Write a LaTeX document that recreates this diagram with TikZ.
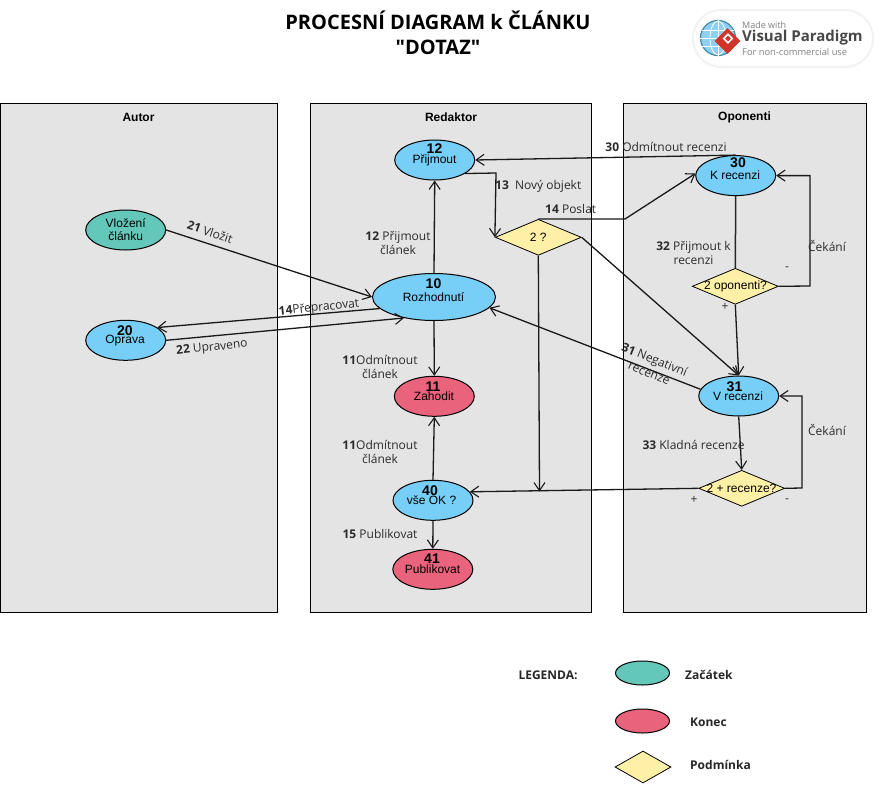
\documentclass[tikz,border=0pt]{standalone}
\usepackage{fontspec}
\setmainfont{Liberation Sans}
\newfontfamily\opensans{Open Sans}
\usetikzlibrary{arrows.meta,shapes.geometric,calc}
\definecolor{lanegray}{HTML}{E4E4E4}
\definecolor{stepblue}{HTML}{77CEF6}
\definecolor{stepteal}{HTML}{63C7B9}
\definecolor{stepred}{HTML}{E8637B}
\definecolor{stepyellow}{HTML}{FFF0A8}
\definecolor{lbltext}{HTML}{2B2B2B}
\definecolor{globeblue}{HTML}{8FD0F2}
\definecolor{globeedge}{HTML}{3F8CA6}
\definecolor{gemred}{HTML}{D0352B}
\tikzset{
  lane/.style={draw=black,fill=lanegray,line width=1pt,anchor=north west,inner sep=0pt},
  lanetitle/.style={font=\fontsize{12}{14}\selectfont\bfseries,inner sep=0pt},
  oval/.style={ellipse,draw=black,line width=1pt,minimum width=80pt,minimum height=40pt,inner sep=0pt,align=center,font=\fontsize{12}{13}\selectfont},
  blueoval/.style={oval,fill=stepblue},
  redoval/.style={oval,fill=stepred},
  tealoval/.style={oval,fill=stepteal},
  cond/.style={diamond,aspect=2.4,draw=black,line width=.8pt,fill=stepyellow,minimum width=86pt,minimum height=36pt,inner sep=0pt,font=\fontsize{12}{13}\selectfont},
  num/.style={font=\fontsize{14}{15}\selectfont\bfseries,inner sep=0pt},
  nodetext/.style={font=\fontsize{12}{13}\selectfont,inner sep=0pt},
  lbl/.style={font=\opensans\fontsize{12}{14.5}\selectfont,text=lbltext,inner sep=0pt,align=center},
  conn/.style={draw=black!90,line width=1.3pt,-{Straight Barb[length=8pt,width=11pt,line width=1.1pt]}},
  plain/.style={draw=black!85,line width=1.5pt},
  legtext/.style={font=\opensans\fontsize{12}{14}\selectfont\bfseries,text=black!85,inner sep=0pt}
}
\begin{document}
\begin{tikzpicture}[x=1pt,y=-1pt]
\useasboundingbox (0,0) rectangle (882,784);
% title
\node[font=\opensans\fontsize{20}{25}\selectfont\bfseries,align=center,inner sep=0pt] (title) at (438,32.5) {PROCESNÍ DIAGRAM k ČLÁNKU\\"DOTAZ"};
% logo
\node[draw=black!5,line width=2pt,fill=white,rounded corners=28pt,minimum width=180pt,minimum height=57pt,inner sep=0pt] (logo) at (783,38.5) {};
\node[circle,draw=globeedge,fill=globeblue,line width=1.2pt,minimum size=35pt,inner sep=0pt] (globe) at (718,38) {};
\draw[white,line width=.8pt] (globe.north) -- (globe.south) (globe.west) -- (globe.east)
  (702,30) -- (734,30) (702,46) -- (734,46);
\node[ellipse,draw=white,line width=.8pt,minimum width=16pt,minimum height=34pt,inner sep=0pt] (globem) at (718,38) {};
\node[diamond,fill=gemred,minimum size=26pt,inner sep=0pt] (gem) at (727.5,41) {};
\node[rectangle,draw=white,line width=1.6pt,rotate=45,minimum size=6pt,inner sep=0pt] (gemhole) at (728,38.5) {};
\node[font=\opensans\fontsize{9}{10}\selectfont,text=black!50,anchor=west,inner sep=0pt] (made) at (742,25) {Made with};
\node[font=\opensans\fontsize{15}{16}\selectfont\bfseries,text=black!72,anchor=west,inner sep=0pt] (vp) at (742,38) {Visual Paradigm};
\node[font=\opensans\fontsize{9.3}{10}\selectfont,text=black!50,anchor=west,inner sep=0pt] (nc) at (742,52) {For non-commercial use};
% lanes
\node[lane,minimum width=277pt,minimum height=509pt] (autor) at (0,103) {};
\node[lane,minimum width=281pt,minimum height=509pt] (redaktor) at (310,103) {};
\node[lane,minimum width=243pt,minimum height=509pt] (oponenti) at (623,103) {};
\node[lanetitle] (tA) at (138.5,117) {Autor};
\node[lanetitle] (tR) at (451,117) {Redaktor};
\node[lanetitle] (tO) at (744.5,117) {Oponenti};
% nodes
\node[blueoval] (prijmout) at (434.7,160) {};
\node[blueoval,minimum width=123pt,minimum height=47pt] (rozh) at (434,297) {};
\node[tealoval] (vlozeni) at (125.7,230) {Vložení\\článku};
\node[blueoval] (oprava) at (125.7,340.3) {};
\node[redoval] (zahodit) at (434.3,396.3) {};
\node[blueoval] (vseok) at (433,500.3) {};
\node[redoval] (publ) at (432.8,569.3) {};
\node[blueoval] (krec) at (735.7,175.6) {};
\node[blueoval] (vrec) at (738.7,396) {};
\node[cond] (d2) at (538.3,237.3) {2 ?};
\node[cond] (dopon) at (735.3,286.3) {};
\node[cond] (drec) at (741.7,488.3) {};
% node inner text
\node[num] (n12) at (434.5,149) {12};
\node[nodetext] (tprij) at (434.5,160) {Přijmout};
\node[num] (n10) at (433.5,284) {10};
\node[nodetext] (trozh) at (433.5,297) {Rozhodnutí};
\node[num] (n20) at (125,331) {20};
\node[nodetext] (topr) at (125,341) {Oprava};
\node[num] (n11) at (433,387) {11};
\node[nodetext] (tzah) at (434,396) {Zahodit};
\node[num] (n40) at (430,490.5) {40};
\node[nodetext] (tvse) at (431.5,500) {vše OK ?};
\node[num] (n41) at (432,559) {41};
\node[nodetext] (tpub) at (432.5,569) {Publikovat};
\node[num] (n30) at (738,163) {30};
\node[nodetext] (tkrec) at (735,175) {K recenzi};
\node[num] (n31) at (734.5,387) {31};
\node[nodetext] (tvrec) at (738,396) {V recenzi};
\node[nodetext] (topon) at (735.5,286) {2 oponenti?};
\node[nodetext] (trecz) at (741.5,488) {2 + recenze?};
% connectors
\coordinate (c1) at (496,173);
\coordinate (c2) at (625,219);
\coordinate (c3) at (810,286);
\coordinate (c4) at (810,175.6);
\coordinate (c5) at (802,488);
\coordinate (c6) at (802,396);
\coordinate (c7) at (539.5,491.5);
\draw[conn] (krec.north) -- (prijmout.east);
\draw[conn] (prijmout.-24) -- (c1) -- (d2.west);
\draw[conn] (d2.north) -- (c2) -- (krec.177);
\draw[conn] (d2.east) -- (vrec.north);
\draw[conn] (d2.south) -- (c7);
\draw[conn] (drec.west) -- (vseok.13);
\draw[plain] (krec.south) -- (dopon.north);
\draw[conn] (dopon.south) -- (vrec.north);
\draw[conn] (dopon.east) -- (c3) -- (c4) -- (krec.east);
\draw[conn] (vrec.south) -- (drec.north);
\draw[conn] (drec.east) -- (c5) -- (c6) -- (vrec.east);
\draw[conn] (vrec.170) -- (rozh.-11);
\draw[conn] (rozh.north) -- (prijmout.south);
\draw[conn] (rozh.south) -- (zahodit.north);
\draw[conn] (vseok.north) -- (zahodit.south);
\draw[conn] (vseok.south) -- (publ.north);
\draw[conn] (vlozeni.east) -- (rozh.west);
\draw[conn] (rozh.192) -- (oprava.22);
\draw[conn] (oprava.east) -- (rozh.215);
% connector labels
\node[lbl] (l30) at (666,147) {\textbf{30} Odmítnout recenzi};
\node[lbl,anchor=west] (l13) at (495,186) {\textbf{13}\ \ Nový objekt};
\node[lbl,anchor=west] (l14) at (545,209) {\textbf{14} Poslat};
\node[lbl] (l12) at (398,243) {\textbf{12} Přijmout\\článek};
\node[lbl] (l32) at (693.5,253) {\textbf{32} Přijmout k\\recenzi};
\node[lbl] (lc1) at (827,246) {Čekání};
\node[lbl] (lm1) at (787,269) {-};
\node[lbl] (lp1) at (725,307) {+};
\node[lbl] (l11a) at (380,367) {\textbf{11}Odmítnout\\článek};
\node[lbl] (l11b) at (380,452) {\textbf{11}Odmítnout\\článek};
\node[lbl] (l15) at (380,534) {\textbf{15} Publikovat};
\node[lbl] (l33) at (693.5,445) {\textbf{33} Kladná recenze};
\node[lbl] (lc2) at (827,430) {Čekání};
\node[lbl] (lp2) at (694,500) {+};
\node[lbl] (lm2) at (787,501) {-};
\node[lbl,rotate=-19] (l21) at (210,232) {\textbf{21} Vložit};
\node[lbl,rotate=6] (l14b) at (319,308) {\textbf{14}Přepracovat};
\node[lbl,rotate=6] (l22) at (212,348) {\textbf{22} Upraveno};
\node[lbl,rotate=-22] (l31) at (652,366) {\textbf{31} Negativní\\recenze};
% legend
\node[legtext] (lg) at (548,675) {LEGENDA:};
\node[tealoval,minimum width=54pt,minimum height=24pt] (lgs) at (642.5,673) {};
\node[redoval,minimum width=54pt,minimum height=24pt] (lge) at (642.5,721) {};
\node[cond,minimum width=56pt,minimum height=32pt,aspect=1.75] (lgc) at (643,767) {};
\node[legtext,anchor=west] (lg1) at (685,675) {Začátek};
\node[legtext,anchor=west] (lg2) at (690,722) {Konec};
\node[legtext,anchor=west] (lg3) at (690,765) {Podmínka};
\end{tikzpicture}
\end{document}
